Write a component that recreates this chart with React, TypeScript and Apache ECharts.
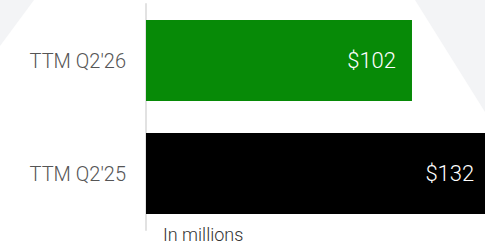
import React, { useEffect, useRef } from "react";
import * as echarts from "echarts";

const categories = ["TTM Q2'26", "TTM Q2'25"];
const values = [102, 132];
const barColors = ["#078a07", "#000000"];
const valueLabels = ["$102", "$132"];
const unitNote = "In millions";

export default function App() {
  const ref = useRef<HTMLDivElement>(null);
  useEffect(() => {
    const chart = echarts.init(ref.current!, null, { renderer: "svg" });
    chart.setOption({
      animation: false,
      backgroundColor: "#ffffff",
      graphic: [
        {
          type: "polygon",
          silent: true,
          z: -10,
          shape: { points: [[0, 0], [34, 0], [0, 46]] },
          style: { fill: "#f3f4f6" },
        },
        {
          type: "polygon",
          silent: true,
          z: -10,
          shape: { points: [[415, 0], [485, 0], [485, 112]] },
          style: { fill: "#f3f4f6" },
        },
        {
          type: "text",
          left: 163,
          top: 225,
          style: {
            text: unitNote,
            fill: "#333333",
            font: "300 18px Roboto",
          },
        },
      ],
      grid: { left: 146, top: 4, bottom: 16, right: 0, containLabel: false },
      xAxis: {
        type: "value",
        min: 0,
        max: 130,
        show: false,
      },
      yAxis: {
        type: "category",
        data: categories,
        inverse: true,
        offset: 1,
        axisLine: { show: true, lineStyle: { color: "#e2e2e2", width: 2 } },
        axisTick: { show: false },
        axisLabel: {
          color: "#555555",
          fontSize: 20,
          fontFamily: "Roboto",
          fontWeight: 300,
          margin: 19,
        },
      },
      series: [
        {
          type: "bar",
          barWidth: 81,
          clip: false,
          data: values.map((v, i) => ({
            value: v,
            itemStyle: { color: barColors[i] },
          })),
          label: {
            show: true,
            position: "insideRight",
            distance: 16,
            color: "#ffffff",
            fontSize: 22,
            fontFamily: "Roboto",
            fontWeight: 300,
            formatter: (p: any) => valueLabels[p.dataIndex],
          },
        },
      ],
    });
    return () => chart.dispose();
  }, []);
  return <div ref={ref} style={{ width: 485, height: 246, position: "fixed", left: 0, top: 0 }} />;
}
